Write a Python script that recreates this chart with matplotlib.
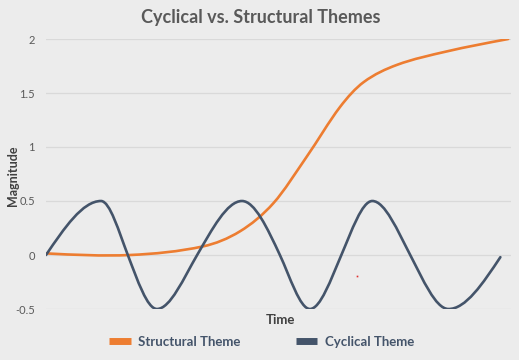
import numpy as np
import matplotlib
matplotlib.use('Agg')
import matplotlib.pyplot as plt
from matplotlib.path import Path
from matplotlib.patches import PathPatch
from matplotlib.lines import Line2D

# Data (time in arbitrary units 0..100)
cyc_t = [0, 11.9, 17.7, 24.0, 32.7, 42.4, 50.6, 57.1, 63.9, 70.6, 78.8, 87.0, 98.3]
cyc_v = [0, 0.5, 0, -0.5, 0, 0.5, 0, -0.5, 0, 0.5, 0, -0.5, -0.02]

str_t = [0, 18.2, 34.0, 42.0, 49.2, 56.4, 63.6, 68.7, 75.9, 86.7, 100]
str_v = [0.015, 0.0, 0.08, 0.22, 0.48, 0.91, 1.37, 1.6, 1.76, 1.885, 2.0]

stray_dot = (67.3, -0.19)

yticks = [-0.5, 0, 0.5, 1, 1.5, 2]
ytick_labels = ['-0.5', '0', '0.5', '1', '1.5', '2']

ORANGE = '#ED7D31'
SLATE = '#44546A'
BG = '#ECECEC'
FONT = 'Lato'


def smooth_path(xs, ys, k=1.0):
    # smoothed line through the points: cubic Hermite segments drawn as Beziers
    x = np.asarray(xs, float)
    y = np.asarray(ys, float)
    n = len(x)
    m = np.zeros(n)
    for i in range(1, n - 1):
        m[i] = k * (y[i + 1] - y[i - 1]) / (x[i + 1] - x[i - 1])
    m[0] = 1.5 * (y[1] - y[0]) / (x[1] - x[0]) - 0.5 * m[1]
    m[-1] = 1.5 * (y[-1] - y[-2]) / (x[-1] - x[-2]) - 0.5 * m[-2]
    verts = [(x[0], y[0])]
    codes = [Path.MOVETO]
    for i in range(n - 1):
        h = (x[i + 1] - x[i]) / 3
        verts += [(x[i] + h, y[i] + m[i] * h),
                  (x[i + 1] - h, y[i + 1] - m[i + 1] * h),
                  (x[i + 1], y[i + 1])]
        codes += [Path.CURVE4] * 3
    return Path(verts, codes)


fig = plt.figure(figsize=(5.19, 3.6), dpi=100, facecolor=BG)
ax = fig.add_axes([46 / 519, 1 - 309 / 360, 465 / 519, 270 / 360])
ax.set_facecolor(BG)

ax.set_xlim(0, 100.6)
ax.set_ylim(-0.5, 2)
ax.set_yticks(yticks)
ax.set_yticklabels(ytick_labels, fontsize=8, color='#595959', family=FONT)
ax.set_xticks([])
ax.tick_params(axis='y', length=0, pad=8)
ax.grid(axis='y', color='#D9D9D9', lw=0.9)
ax.set_axisbelow(True)
for s in ax.spines.values():
    s.set_visible(False)

ax.add_patch(PathPatch(smooth_path(str_t, str_v), fill=False, edgecolor=ORANGE,
                       lw=1.9, capstyle='round', zorder=3))
ax.add_patch(PathPatch(smooth_path(cyc_t, cyc_v, k=1.35), fill=False, edgecolor=SLATE,
                       lw=1.9, capstyle='round', zorder=4))
ax.plot([stray_dot[0]], [stray_dot[1]], marker='s', ms=1.2, color='#E03030',
        mew=0, zorder=5)

fig.text(0.502, 1 - 17 / 360, 'Cyclical vs. Structural Themes', ha='center',
         va='center', fontsize=13, fontweight='bold', color='#595959', family=FONT)
fig.text(13 / 519, 1 - 176 / 360, 'Magnitude', rotation=90, ha='center',
         va='center', fontsize=9, fontweight='bold', color='#404040', family=FONT)
fig.text(280 / 519, 1 - 320 / 360, 'Time', ha='center', va='center',
         fontsize=9.5, fontweight='bold', color='#404040', family=FONT)

handles = [Line2D([0], [0], color=ORANGE, lw=5, solid_capstyle='butt'),
           Line2D([0], [0], color=SLATE, lw=5, solid_capstyle='butt')]
fig.legend(handles, ['Structural Theme', 'Cyclical Theme'], loc='center',
           bbox_to_anchor=(262 / 519, 1 - 342 / 360), ncol=2, frameon=False,
           handlelength=1.6, handletextpad=0.6, columnspacing=4.2,
           prop={'family': FONT, 'weight': 'bold', 'size': 9.5}, labelcolor=SLATE)

fig.savefig('out.png', dpi=100, facecolor=BG)
